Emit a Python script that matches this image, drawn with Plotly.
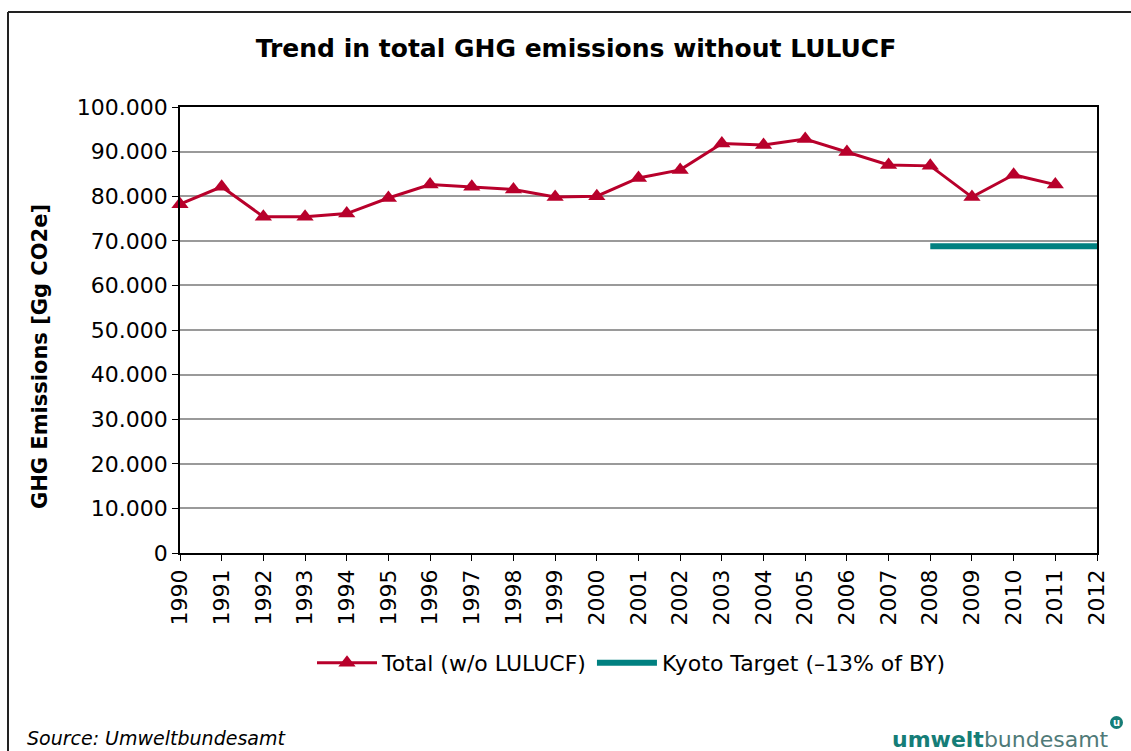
import plotly.graph_objects as go

# ---- data ----
years = [str(y) for y in range(1990, 2013)]
total_years = [str(y) for y in range(1990, 2012)]
total_values = [78200, 82100, 75400, 75400, 76100, 79600, 82600, 82100, 81500,
                79800, 80000, 84100, 85900, 91800, 91500, 92800, 89900, 87000,
                86800, 79800, 84800, 82600]
kyoto_years = ["2008", "2009", "2010", "2011", "2012"]
kyoto_values = [68800, 68800, 68800, 68800, 68800]
y_ticks = list(range(0, 100001, 10000))

W, H = 1131, 751
L, R, T, B = 180, 1097, 107, 553
pw, ph = R - L, B - T


def px(x):
    return (x - L) / pw


def py(y):
    return (B - y) / ph


RED = "#B8002B"
TEAL = "#008080"
FONT = "DejaVu Sans, Arial, sans-serif"

fig = go.Figure()
fig.add_trace(go.Scatter(
    x=total_years, y=total_values, name="Total (w/o LULUCF)",
    mode="lines+markers",
    line=dict(color=RED, width=3),
    marker=dict(symbol="triangle-up", size=15, color=RED),
    cliponaxis=False,
))
fig.add_trace(go.Scatter(
    x=kyoto_years, y=kyoto_values, name="Kyoto Target (\u201313% of BY)",
    mode="lines",
    line=dict(color=TEAL, width=6),
    cliponaxis=False,
))

fig.update_layout(
    width=W, height=H,
    margin=dict(l=L, r=W - R, t=T, b=H - B, pad=0),
    paper_bgcolor="white", plot_bgcolor="white",
    separators=",.",
    font=dict(family=FONT, size=20, color="black"),
    title=dict(text="<b>Trend in total GHG emissions without LULUCF</b>",
               x=576 / W, xref="container", xanchor="center",
               y=1 - 48 / H, yref="container", yanchor="middle",
               font=dict(size=25, family=FONT, color="black")),
    showlegend=True,
    legend=dict(orientation="h", x=px(631), xanchor="center", y=py(663),
                yanchor="middle", font=dict(size=22, family=FONT),
                itemwidth=60, bgcolor="rgba(0,0,0,0)", tracegroupgap=0),
)

fig.update_xaxes(
    type="category", categoryorder="array", categoryarray=years,
    range=[0, len(years) - 1],
    tickmode="array", tickvals=years, ticktext=years,
    tickangle=-90, tickfont=dict(size=22, family=FONT),
    showline=True, linecolor="black", linewidth=1.5, mirror=True,
    ticks="outside", ticklen=6, tickcolor="black", tickwidth=1,
    showgrid=False, zeroline=False,
)
fig.update_yaxes(
    range=[0, 100000], tickmode="array", tickvals=y_ticks,
    tickformat=",.0f", tickfont=dict(size=22, family=FONT),
    showline=True, linecolor="black", linewidth=1.5, mirror=True,
    ticks="outside", ticklen=6, tickcolor="black", tickwidth=1,
    showgrid=True, gridcolor="#9a9a9a", gridwidth=1.5, zeroline=False,
)

# Y axis title
fig.add_annotation(
    text="<b>GHG Emissions [Gg CO2e]</b>", textangle=-90,
    x=px(40), y=py(357), xref="paper", yref="paper",
    xanchor="center", yanchor="middle", showarrow=False,
    font=dict(size=21, family=FONT, color="black"),
)

# Source note
fig.add_annotation(
    text="<i>Source: Umweltbundesamt</i>",
    x=px(25), y=py(738), xref="paper", yref="paper",
    xanchor="left", yanchor="middle", showarrow=False,
    font=dict(size=19, family=FONT, color="black"),
)

# Logo text
fig.add_annotation(
    text="<b>umwelt</b><span style='color:#4f7a78'>bundesamt</span>",
    x=px(1111), y=py(739), xref="paper", yref="paper",
    xanchor="right", yanchor="middle", showarrow=False,
    font=dict(size=22, family=FONT, color="#157d77"),
)
fig.add_shape(type="circle", xref="paper", yref="paper",
              x0=px(1110), x1=px(1123), y0=py(729), y1=py(716),
              fillcolor="#157d77", line=dict(width=0))
fig.add_annotation(
    text="<b>u</b>",
    x=px(1116.5), y=py(722.5), xref="paper", yref="paper",
    xanchor="center", yanchor="middle", showarrow=False,
    font=dict(size=10, family=FONT, color="white"),
)

# Outer frame (top and left edges)
fig.add_shape(type="line", xref="paper", yref="paper",
              x0=px(8), x1=px(1140), y0=py(12), y1=py(12),
              line=dict(color="#222222", width=2))
fig.add_shape(type="line", xref="paper", yref="paper",
              x0=px(8), x1=px(8), y0=py(12), y1=py(760),
              line=dict(color="#222222", width=2))

fig.write_html("out.html", config={"displayModeBar": False},
               post_script="document.body.style.margin='0';document.body.style.padding='0';")
